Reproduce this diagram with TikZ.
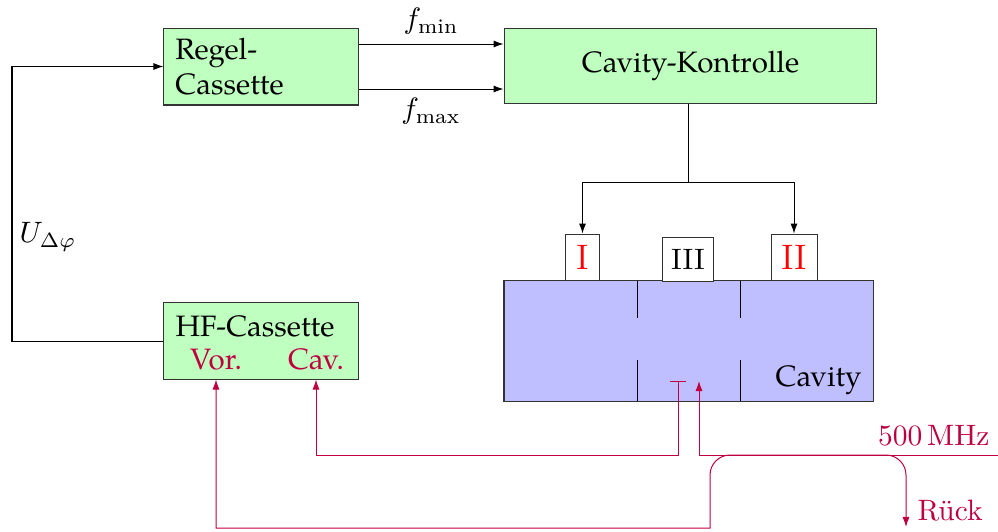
\documentclass[tikz,border=0pt]{standalone}
\usepackage{fontspec}
\newfontfamily\pal{TeX Gyre Pagella}
\usetikzlibrary{arrows.meta}
\begin{document}
\begin{tikzpicture}[x=0.339pt,y=-0.339pt, font=\pal, line width=0.34pt,
  box/.style={draw=black!80, inner sep=0pt, line width=0.34pt},
  gbox/.style={box, fill=green!25},
  tip/.tip={Latex[length=3.4pt,width=2.4pt]},
  arr/.style={-tip},
  rl/.style={color=purple, line width=0.34pt},
  rtext/.style={text=purple}]
\useasboundingbox (0,0) rectangle (998,531);

% boxes
\node[gbox, minimum width=65.8pt, minimum height=26.1pt, text width=58pt, align=left] (regel) at (261,66.5) {Regel-\\Cassette};
\node[gbox, minimum width=126.4pt, minimum height=25.1pt] (kon) at (690.5,66) {Cavity-Kontrolle};
\node[gbox, minimum width=65.8pt, minimum height=25.8pt] (hf) at (261,341) {};
\node[anchor=base west, inner sep=0pt] (hft) at (175,336) {HF-Cassette};
\node[anchor=base, inner sep=0pt, rtext] (vor) at (216,369) {Vor.};
\node[anchor=base, inner sep=0pt, rtext] (cav) at (316,369) {Cav.};

\node[box, fill=blue!25, minimum width=125.1pt, minimum height=40.7pt] (cavity) at (688.5,341) {};
\node[anchor=base east, inner sep=0pt] (cavt) at (862,386) {Cavity};
\draw (637,281) -- (637,318) (637,360) -- (637,401);
\draw (740,281) -- (740,318) (740,360) -- (740,401);

\node[box, fill=white, minimum width=11.2pt, minimum height=15.9pt, text=red, font=\rmfamily\large] (b1) at (582.5,257.5) {I};
\node[box, fill=white, minimum width=15.6pt, minimum height=15.9pt, text=red, font=\rmfamily\large] (b2) at (794,257.5) {II};
\node[box, fill=white, minimum width=17.6pt, minimum height=14.6pt, font=\rmfamily] (b3) at (688,259.5) {III};

% black connectors
\coordinate (ymin) at (0,44);
\coordinate (ymax) at (0,89);
\draw[arr] (regel.east |- ymin) -- node[above, inner sep=3pt, font=\rmfamily]{$f_{\mathrm{min}}$} (kon.west |- ymin);
\draw[arr] (regel.east |- ymax) -- node[below, inner sep=3pt, font=\rmfamily]{$f_{\mathrm{max}}$} (kon.west |- ymax);

\coordinate (split) at (688,182);
\draw (kon.south -| split) -- (split);
\draw[arr] (split) -| (b1.north);
\draw[arr] (split) -| (b2.north);

\coordinate (lx) at (12,200);
\draw[arr] (hf.west) -- (hf.west -| lx) -- (lx |- regel.west) -- (regel.west);
\node[font=\rmfamily] (ulabel) at (48,237) {$U_{\Delta\varphi}$};

% red connectors
\coordinate (lowA) at (0,455);
\coordinate (t1) at (678,381);
\coordinate (t2) at (699,381);
\coordinate (in500) at (998,455);
\coordinate (bot) at (0,528);
\coordinate (xr) at (710,0);
\coordinate (xk) at (906,0);
\coordinate (rend) at (906,527);

\draw[rl, {Bar[width=5.5pt]}-tip] (t1) -- (t1 |- lowA) -| (cav |- hf.south);
\draw[rl, arr] (in500) -| (t2);
\node[anchor=base east, inner sep=0pt, rtext, font=\rmfamily] (mhz) at (990,445) {500\,MHz};
\draw[rl, tip-tip] (vor |- hf.south) -- (vor |- bot) -- (xr |- bot) [rounded corners=6.8pt] -- (xr |- lowA) -- (xk |- lowA) -- (rend);
\node[anchor=base west, inner sep=0pt, rtext, font=\rmfamily] (rueck) at (917,520) {Rück};
\end{tikzpicture}
\end{document}
